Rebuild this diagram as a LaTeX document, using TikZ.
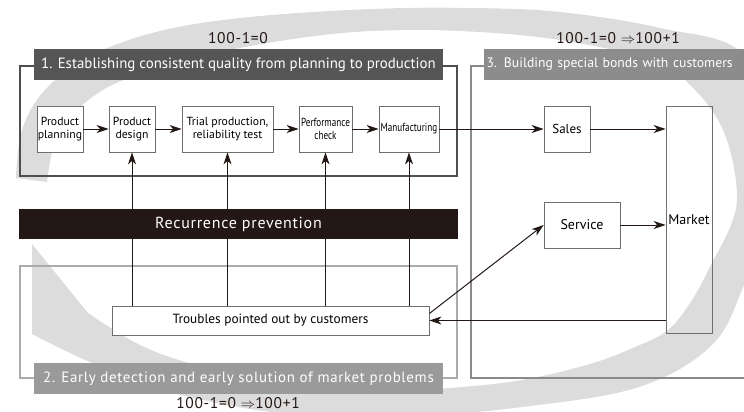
\documentclass[tikz,border=0pt]{standalone}
\usepackage{fontspec}
\setmainfont{PT Sans}
\newfontfamily\condfont[FakeStretch=0.78]{PT Sans}
\newfontfamily\widefont[LetterSpace=4.5]{PT Sans}
\usepackage{amsmath}
\usetikzlibrary{arrows.meta, positioning, calc}
\definecolor{loopgrey}{HTML}{DCDCDC}
\definecolor{linedark}{HTML}{231815}
\definecolor{boxgrey}{HTML}{6E6E6E}
\definecolor{frameone}{HTML}{4F4F4F}
\definecolor{framethree}{HTML}{8A8A8A}
\definecolor{frametwo}{HTML}{ABABAB}
\definecolor{barone}{HTML}{555555}
\definecolor{barthree}{HTML}{8C8C8C}
\definecolor{bartwo}{HTML}{9A9A9A}

\begin{document}
\begin{tikzpicture}[x=1pt, y=-1pt,
    procbox/.style={draw=boxgrey, fill=white, line width=0.8pt, align=center,
      inner sep=1pt, minimum height=46pt, font=\fontsize{11.7}{12.5}\selectfont},
    flow/.style={draw=linedark, line width=1pt,
      -{Stealth[length=12pt, width=8pt, inset=3.5pt]}},
    titlebar/.style={text=white, minimum height=31pt, inner sep=0pt,
      font=\fontsize{14.9}{15}\selectfont},
    gain/.style={font=\widefont\fontsize{15.5}{16}\selectfont, text=linedark}]
  \clip (0,0) rectangle (744,412);

  % the big grey loop
  \fill[loopgrey] plot[smooth, tension=0.6] coordinates {(16,178) (22,130) (45,90) (90,56)
      (160,31) (250,17) (372,9) (470,8) (560,12) (660,28) (744,55) (772,150) (768,220)
      (744,285) (712,345) (639,387) (522,407) (400,417) (280,413) (170,392) (90,362) (32,334)}
    -- (32,244) -- (88,313)
    -- plot[smooth, tension=0.6] coordinates {(88,313) (140,345) (200,366) (290,385) (372,392)
      (450,388) (522,380) (590,364) (635,347) (668,330) (692,300) (712,263) (731,225)
      (737,195) (730,150) (715,115) (690,85) (660,62) (560,40) (460,31) (372,31) (300,38)
      (220,52) (160,68) (110,86) (75,112) (55,142) (47,182)}
    -- cycle;

  % section frames
  \draw[frameone, line width=1.3pt] (20,66) rectangle (457,176);
  \draw[frametwo, line width=1.1pt] (20,266) rectangle (457,378);
  \draw[framethree, line width=1.1pt] (471,66) rectangle (800,378);

  % process row
  \node[procbox, minimum width=46pt] (plan) at (60,129) {Product\\planning};
  \node[procbox, minimum width=46pt] (design) at (132,129) {Product\\design};
  \node[procbox, minimum width=91pt] (trial) at (227.5,129) {Trial production,\\reliability test};
  \node[procbox, minimum width=53pt, font=\condfont\fontsize{11.7}{12.5}\selectfont] (perf) at (325.5,129) {Performance\\check};
  \node[procbox, minimum width=60pt, font=\condfont\fontsize{11.7}{12.5}\selectfont] (manu) at (409,129) {Manufacturing};
  \node[procbox, minimum width=46pt, font=\fontsize{13}{14}\selectfont] (sales) at (567,129) {Sales};
  \node[procbox, fill=none, minimum width=46pt, minimum height=227pt, font=\fontsize{14}{15}\selectfont] (market) at (689,219.5) {Market};
  \node[procbox, minimum width=76pt, font=\fontsize{14}{15}\selectfont] (service) at (582,225) {Service};
  \node[procbox, minimum width=317pt, minimum height=29pt, font=\fontsize{13.3}{14}\selectfont] (troubles) at (270.5,320.5) {Troubles pointed out by customers};

  \draw[flow] (plan) -- (design);
  \draw[flow] (design) -- (trial);
  \draw[flow] (trial) -- (perf);
  \draw[flow] (perf) -- (manu);
  \draw[flow] (manu) -- (sales);
  \draw[flow] (sales) -- (sales -| market.west);
  \draw[flow] (service) -- (service -| market.west);
  \draw[flow] ([yshift=7pt]troubles.east) -- (service.west);
  \draw[flow] (market.west |- troubles.east) -- (troubles.east);
  \foreach \b in {design, trial, perf, manu}
    \draw[flow] (troubles.north -| \b) -- (\b.south);

  % bars
  \node[fill=linedark, text=white, minimum width=439pt, minimum height=30pt, inner sep=0pt,
    font=\widefont\fontsize{16}{17}\selectfont] (recur) at (238.5,224) {Recurrence prevention};
  \node[titlebar, fill=barone, minimum width=409pt] (bar1) at (238.5,64.5)
    {1. Establishing consistent quality from planning to production};
  \node[titlebar, fill=bartwo, minimum width=409pt, font=\widefont\fontsize{14.9}{15}\selectfont] (bar2) at (238.5,378.5)
    {2. Early detection and early solution of market problems};
  \node[titlebar, fill=barthree, minimum width=300pt, anchor=west, text width=295pt,
    align=left, font=\fontsize{13.7}{14}\selectfont] (bar3) at (484,64.5) {3. Building special bonds with customers};

  \node[gain] (gain1) at (238,38) {100-1=0};
  \node[gain] (gain3) at (618,38) {100-1=0 $\Rightarrow$100+1};
  \node[gain] (gain2) at (238,403) {100-1=0 $\Rightarrow$100+1};
\end{tikzpicture}
\end{document}
